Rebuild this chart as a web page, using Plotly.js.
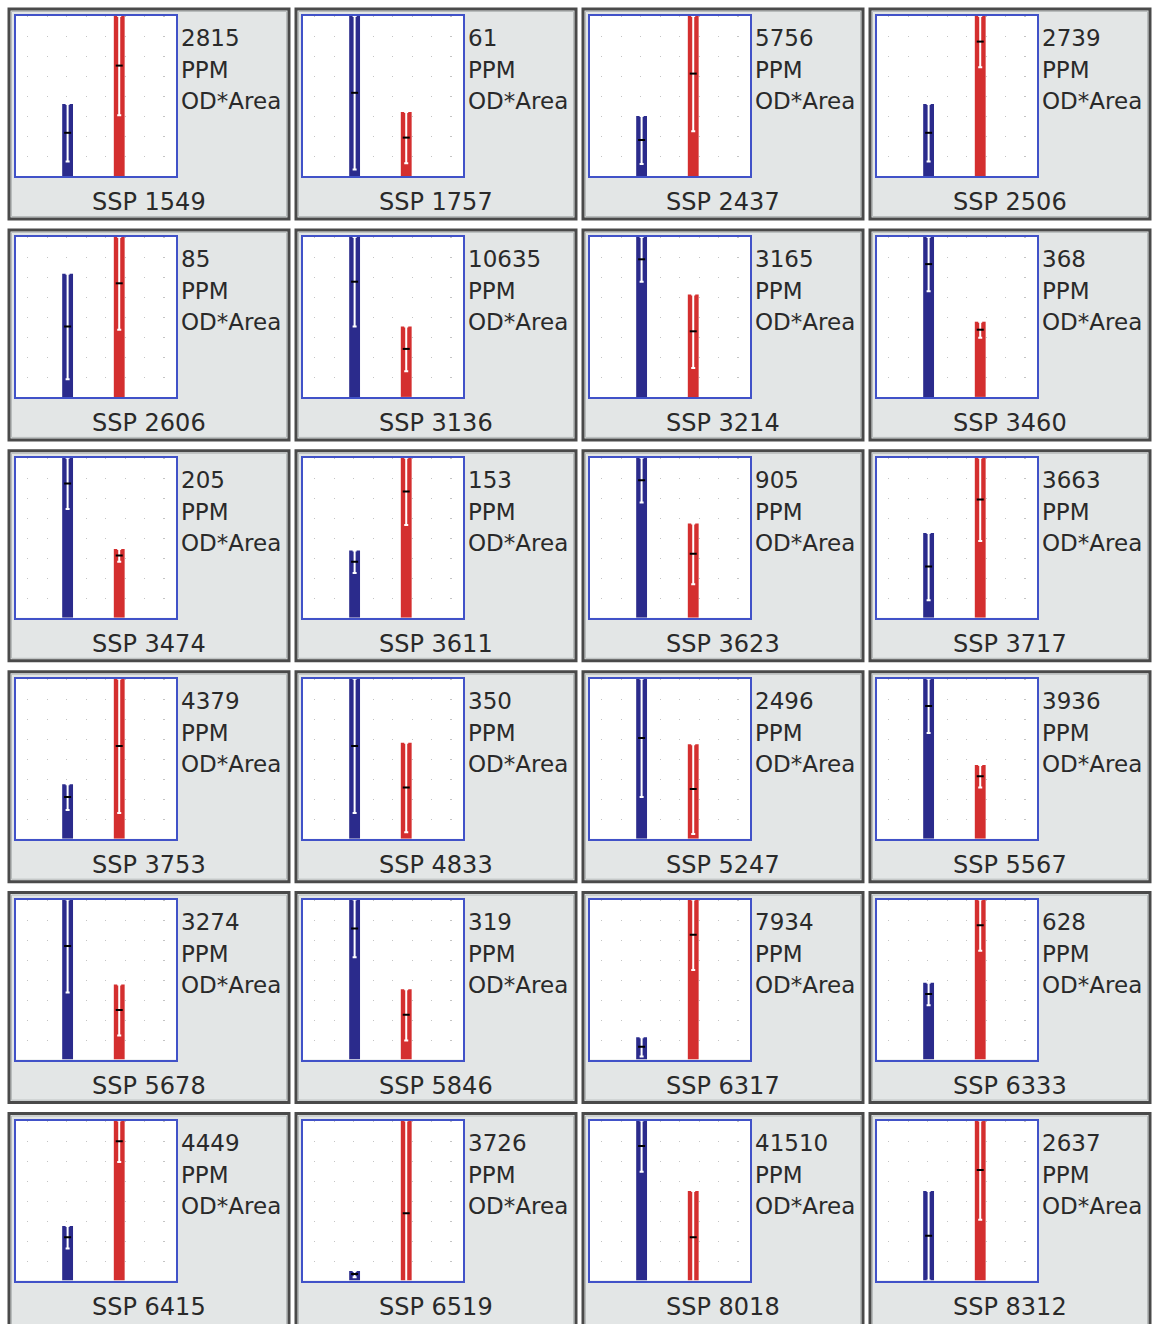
<!DOCTYPE html>
<html>
<head>
<meta charset="utf-8">
<script src="https://cdn.plot.ly/plotly-3.0.1.min.js"></script>
<style>
  html, body { margin: 0; padding: 0; background: #ffffff; }
  #chart { width: 1153px; height: 1324px; }
</style>
</head>
<body>
<div id="chart"></div>
<script>
// ---- data (values as % of each panel's full scale) ----
const samples = ['SSP 1549','SSP 1757','SSP 2437','SSP 2506',
                 'SSP 2606','SSP 3136','SSP 3214','SSP 3460',
                 'SSP 3474','SSP 3611','SSP 3623','SSP 3717',
                 'SSP 3753','SSP 4833','SSP 5247','SSP 5567',
                 'SSP 5678','SSP 5846','SSP 6317','SSP 6333',
                 'SSP 6415','SSP 6519','SSP 8018','SSP 8312'];
const ppm = [2815, 61, 5756, 2739,
             85, 10635, 3165, 368,
             205, 153, 905, 3663,
             4379, 350, 2496, 3936,
             3274, 319, 7934, 628,
             4449, 3726, 41510, 2637];
const blueMean = [27, 52, 22.5, 27,
                  44, 72, 86, 83,
                  84, 35, 86, 32,
                  26, 58, 63, 83,
                  71, 82, 8, 41,
                  27, 4, 84, 28];
const blueErr  = [18, 48, 15, 18,
                  33, 28, 14, 17,
                  16, 7, 14, 21,
                  8, 42, 37, 17,
                  29, 18, 6, 7,
                  7, 2, 16, 28];
const redMean  = [69, 24, 64, 84,
                  71, 30, 41, 42,
                  39, 79, 40, 74,
                  58, 32, 31, 39,
                  31, 28, 78, 84,
                  87, 42, 27, 69];
const redErr   = [31, 16, 36, 16,
                  29, 14, 23, 5,
                  4, 21, 19, 26,
                  42, 28, 28, 7,
                  16, 16, 22, 16,
                  13, 58, 29, 31];
const unitLines = ['PPM', 'OD*Area'];

// ---- styling / geometry ----
const W = 1153, H = 1324;
const COLS = 4;
const colLeft = c => 9 + 287 * c;
const rowTop = r => 9 + 220.9 * r;
const PW = 280, PH = 210;
const BLUE = '#2b2b8c', RED = '#d42f2f', FRAME = '#4152c8';
const nRows = Math.ceil(samples.length / COLS);

const px = x => x / W;
const py = y => 1 - y / H;

const data = [];
const layout = {
  width: W, height: H,
  margin: {l: 0, r: 0, t: 0, b: 0},
  paper_bgcolor: '#ffffff',
  plot_bgcolor: '#ffffff',
  showlegend: false,
  shapes: [],
  annotations: [],
  font: {family: 'DejaVu Sans, sans-serif', color: '#2a2a2a'}
};

samples.forEach((name, i) => {
  const c = i % COLS, r = Math.floor(i / COLS);
  const L = colLeft(c), T = rowTop(r);
  const ph = (r === nRows - 1) ? PH + 6 : PH;
  const k = i + 1;
  const xa = 'x' + (k === 1 ? '' : k), ya = 'y' + (k === 1 ? '' : k);
  const xk = 'xaxis' + (k === 1 ? '' : k), yk = 'yaxis' + (k === 1 ? '' : k);

  // panel background + frame
  layout.shapes.push({
    type: 'rect', xref: 'paper', yref: 'paper', layer: 'below',
    x0: px(L), x1: px(L + PW), y0: py(T + ph), y1: py(T),
    fillcolor: '#e3e6e6', line: {color: '#4a4a4a', width: 3}
  });
  layout.shapes.push({
    type: 'rect', xref: 'paper', yref: 'paper', layer: 'below',
    x0: px(L + 2.5), x1: px(L + PW - 2.5), y0: py(T + ph - 2.5), y1: py(T + 2.5),
    fillcolor: 'rgba(0,0,0,0)', line: {color: '#b8bcbc', width: 1}
  });
  // white plotting area
  layout.shapes.push({
    type: 'rect', xref: 'paper', yref: 'paper', layer: 'below',
    x0: px(L + 7), x1: px(L + 167), y0: py(T + 167), y1: py(T + 7),
    fillcolor: '#ffffff', line: {width: 0}
  });

  layout[xk] = {
    domain: [px(L + 7), px(L + 167)],
    anchor: ya, range: [0, 3.1], fixedrange: true,
    showticklabels: false, ticks: '', zeroline: false,
    showline: true, mirror: true, linecolor: FRAME, linewidth: 2,
    showgrid: true, gridcolor: '#c4c4c4', gridwidth: 1.2, griddash: '1px,19px',
    tick0: 0.23, dtick: 0.377
  };
  layout[yk] = {
    domain: [py(T + 167), py(T + 7)],
    anchor: xa, range: [0, 100], fixedrange: true,
    showticklabels: false, ticks: '', zeroline: false,
    showline: true, mirror: true, linecolor: FRAME, linewidth: 2,
    showgrid: false
  };

  data.push({
    type: 'bar', xaxis: xa, yaxis: ya,
    x: [1, 2],
    y: [blueMean[i] + blueErr[i], redMean[i] + redErr[i]],
    width: 0.21,
    marker: {color: [BLUE, RED], line: {width: 0}},
    hoverinfo: 'skip'
  });
  data.push({
    type: 'scatter', mode: 'markers', xaxis: xa, yaxis: ya,
    x: [1, 2],
    y: [blueMean[i], redMean[i]],
    marker: {symbol: 'line-ew', size: 5, color: '#000', line: {color: '#000', width: 2}},
    error_y: {type: 'data', array: [blueErr[i], redErr[i]], visible: true,
              color: '#ffffff', thickness: 2, width: 2},
    hoverinfo: 'skip'
  });

  // texts
  const lines = [String(ppm[i])].concat(unitLines);
  const lineY = [29, 61, 92];
  lines.forEach((t, j) => {
    layout.annotations.push({
      xref: 'paper', yref: 'paper', x: px(L + 170), y: py(T + lineY[j]),
      xanchor: 'left', yanchor: 'middle', showarrow: false,
      text: t, font: {size: 23, color: '#2a2a2a'}
    });
  });
  layout.annotations.push({
    xref: 'paper', yref: 'paper', x: px(L + 139.5), y: py(T + 193),
    xanchor: 'center', yanchor: 'middle', showarrow: false,
    text: name, font: {size: 24, color: '#2a2a2a'}
  });
});

Plotly.newPlot('chart', data, layout, {staticPlot: true, displayModeBar: false});
</script>
</body>
</html>
